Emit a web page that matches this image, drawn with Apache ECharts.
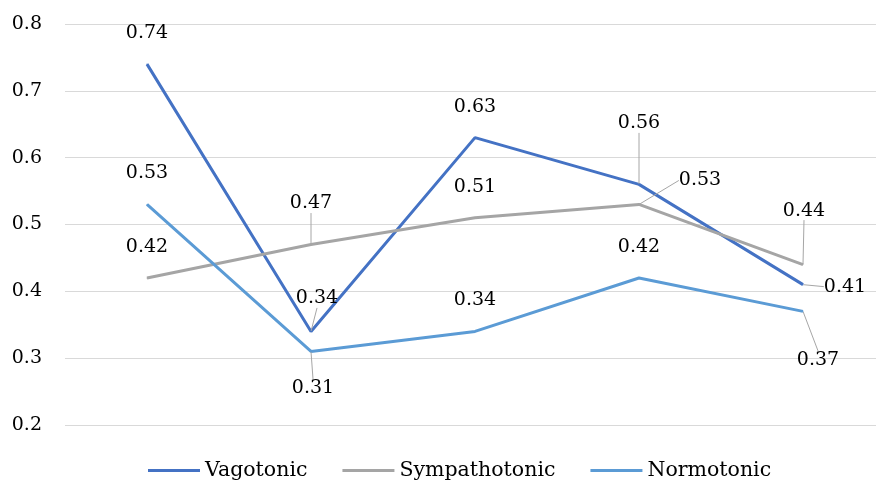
<!DOCTYPE html>
<html>
<head>
<meta charset="utf-8">
<script src="https://cdn.jsdelivr.net/npm/echarts@6/dist/echarts.min.js"></script>
<style>html,body{margin:0;padding:0;background:#fff}#c{width:876px;height:484px}</style>
</head>
<body>
<div id="c"></div>
<script>
var categories = ['1', '2', '3', '4', '5'];
var vagotonic = [0.74, 0.34, 0.63, 0.56, 0.41];
var sympathotonic = [0.42, 0.47, 0.51, 0.53, 0.44];
var normotonic = [0.53, 0.31, 0.34, 0.42, 0.37];
var yTicks = { min: 0.2, max: 0.8, interval: 0.1 };

// label nudges (pixels) relative to the default "top" position
var vagOffsets = [[0,0],[6,-2],[0,0],[0,-30],[42,33]];
var symOffsets = [[0,0],[0,-10],[0,0],[61,7],[1,-23]];
var norOffsets = [[0,0],[2,68],[0,0],[0,0],[15,80]];

var FONT = 'DejaVu Serif';

function makeSeries(name, values, color, offsets) {
  var items = values.map(function (v, i) {
    var moved = offsets[i][0] !== 0 || offsets[i][1] !== 0;
    return { value: v, labelLine: { show: moved } };
  });
  return {
    name: name,
    type: 'line',
    data: items,
    symbol: 'circle',
    symbolSize: 1,
    showSymbol: true,
    lineStyle: { color: color, width: 3 },
    itemStyle: { color: color },
    label: {
      show: true,
      position: 'top',
      distance: 21,
      fontFamily: FONT,
      fontSize: 19,
      color: '#000',
      formatter: function (p) { return Number(p.value).toFixed(2); }
    },
    labelLine: {
      show: true,
      lineStyle: { color: '#A6A6A6', width: 1 }
    },
    labelLayout: function (params) {
      var o = offsets[params.dataIndex];
      return { dx: o[0], dy: o[1] };
    },
    emphasis: { disabled: true }
  };
}

var chart = echarts.init(document.getElementById('c'));
chart.setOption({
  animation: false,
  backgroundColor: '#fff',
  grid: { left: 65, width: 820, top: 24, height: 401, containLabel: false, outerBoundsMode: 'none' },
  legend: {
    bottom: -2,
    left: 143,
    icon: 'rect',
    itemWidth: 52,
    itemHeight: 3,
    itemGap: 35,
    textStyle: { fontFamily: FONT, fontSize: 20.5, color: '#000' },
    data: ['Vagotonic', 'Sympathotonic', 'Normotonic']
  },
  xAxis: {
    type: 'category',
    data: categories,
    boundaryGap: true,
    axisLine: { show: false },
    axisTick: { show: false },
    axisLabel: { show: false }
  },
  yAxis: {
    type: 'value',
    min: yTicks.min,
    max: yTicks.max,
    interval: yTicks.interval,
    axisLine: { show: false },
    axisTick: { show: false },
    axisLabel: {
      fontFamily: FONT, fontSize: 19, color: '#000', margin: 23,
      formatter: function (v) { return v.toFixed(1); }
    },
    splitLine: { lineStyle: { color: '#D9D9D9', width: 1 } }
  },
  series: [
    makeSeries('Vagotonic', vagotonic, '#4472C4', vagOffsets),
    makeSeries('Sympathotonic', sympathotonic, '#A5A5A5', symOffsets),
    makeSeries('Normotonic', normotonic, '#5B9BD5', norOffsets)
  ]
});
</script>
</body>
</html>
